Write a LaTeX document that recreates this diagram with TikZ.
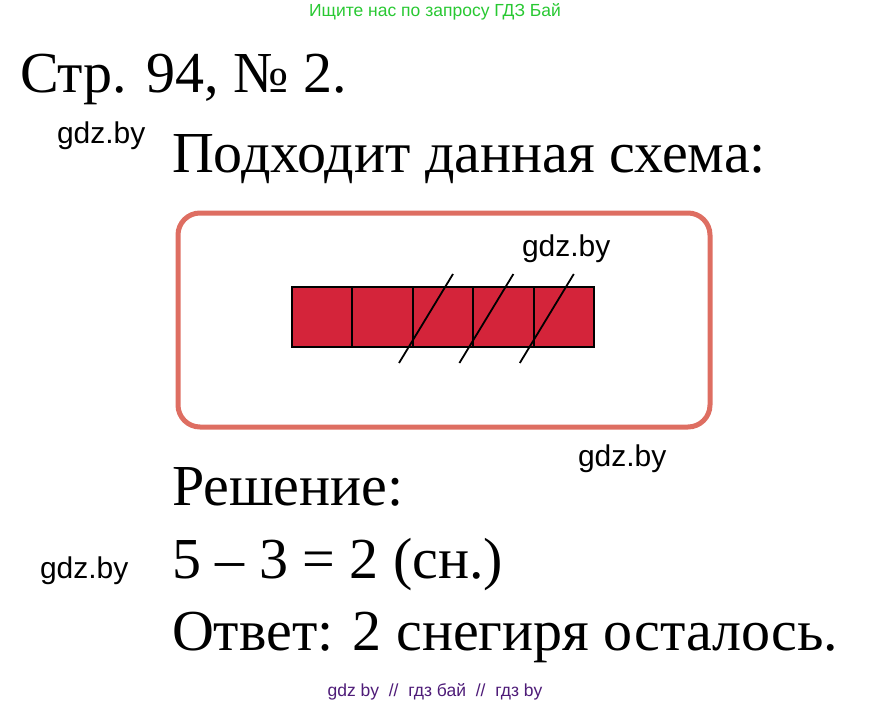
\documentclass[tikz,border=0pt]{standalone}
\usepackage{fontspec}
\setmainfont{Liberation Serif}
\newfontfamily\wmfont{Liberation Sans}
\usetikzlibrary{positioning,calc}

\definecolor{boxred}{RGB}{222,110,98}
\definecolor{cellred}{RGB}{212,36,58}
\definecolor{wmgreen}{RGB}{40,200,50}
\definecolor{wmpurple}{RGB}{78,28,120}

\begin{document}
\begin{tikzpicture}[
        x=1pt, y=-1pt,
        every node/.style={inner sep=0pt, outer sep=0pt},
        bigtext/.style={anchor=base west, font=\fontsize{58}{60}\selectfont},
        wm/.style={anchor=base west, font=\wmfont\fontsize{30}{32}\selectfont},
        cell/.style={draw, line width=2pt, fill=cellred, minimum width=60.4pt, minimum height=60pt},
        slash/.style={line width=1.8pt}
    ]
 \useasboundingbox (0,0) rectangle (870,706);
 % watermarks
 \node[font=\wmfont\fontsize{17.5}{19}\selectfont, text=wmgreen] (top) at (435,12) {Ищите нас по запросу ГДЗ Бай};
 \node[font=\wmfont\fontsize{17.5}{19}\selectfont, text=wmpurple] (bottom) at (435,692) {gdz by\ \ //\ \ гдз бай\ \ //\ \ гдз by};
 % texts
 \node[bigtext] (title) at (20,93) {Стр. 94, № 2.};
 \node[wm] (gdza) at (57,143) {gdz.by};
 \node[bigtext] (task) at (172,172) {Подходит данная схема:};
 % scheme
 \draw[boxred, line width=5pt, rounded corners=22pt] (178,213) rectangle (710,427);
 \node[cell] (c1) at (322.2,317) {};
 \node[cell, right=0pt of c1] (c2) {};
 \node[cell, right=0pt of c2] (c3) {};
 \node[cell, right=0pt of c3] (c4) {};
 \node[cell, right=0pt of c4] (c5) {};
 \foreach \i in {3,4,5}
   \draw[slash] ($(c\i.center)+(-44,46)$) -- ($(c\i.center)+(10,-43)$);
 \node[wm] (gdzb) at (522,256) {gdz.by};
 \node[wm] (gdzc) at (578,466) {gdz.by};
 % solution
 \node[bigtext] (sol) at (172,505) {Решение:};
 \node[wm] (gdzd) at (40,578) {gdz.by};
 \node[bigtext] (calc) at (172,578) {5 – 3 = 2 (сн.)};
 \node[bigtext] (answer) at (172,650) {Ответ: 2 снегиря осталось.};
\end{tikzpicture}
\end{document}
